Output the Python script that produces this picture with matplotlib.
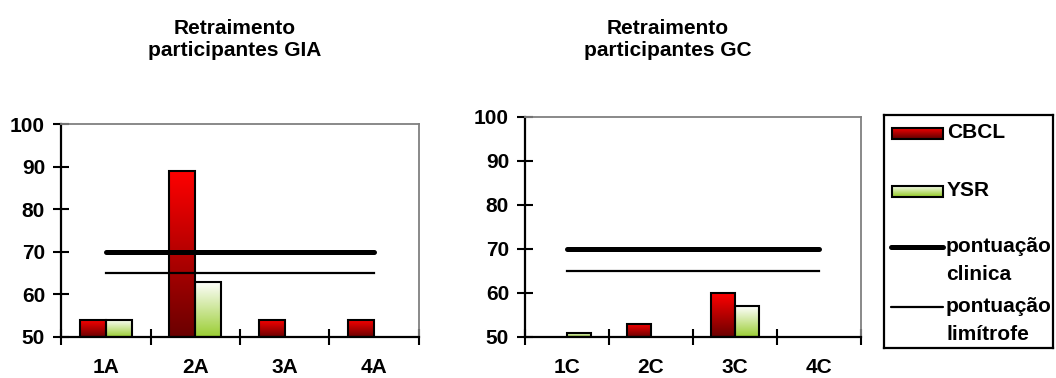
import numpy as np
import matplotlib
matplotlib.use('Agg')
import matplotlib.pyplot as plt
from matplotlib.colors import LinearSegmentedColormap
from matplotlib.patches import Rectangle

plt.rcParams['font.family'] = ['Liberation Sans', 'DejaVu Sans']
plt.rcParams['font.weight'] = 'bold'
plt.rcParams['font.size'] = 15

# Scores per participant
cats_gia = ['1A', '2A', '3A', '4A']
cbcl_gia = [54, 89, 54, 54]
ysr_gia = [54, 63, np.nan, np.nan]

cats_gc = ['1C', '2C', '3C', '4C']
cbcl_gc = [np.nan, 53, 60, np.nan]
ysr_gc = [51, np.nan, 57, np.nan]

clinical = 70
borderline = 65
yticks = [50, 60, 70, 80, 90, 100]

W, H = 1056, 378
fig = plt.figure(figsize=(W / 100, H / 100), dpi=100)


def px_axes(x0, y0, x1, y1):
    return fig.add_axes([x0 / W, 1 - y1 / H, (x1 - x0) / W, (y1 - y0) / H])


red_cmap = LinearSegmentedColormap.from_list('cbcl', ['#6a0000', '#ff0000'])
green_cmap = LinearSegmentedColormap.from_list('ysr', ['#9acd32', '#ffffff'])
grad = np.linspace(0, 1, 256).reshape(-1, 1)


def fill_gradient(ax, patch, cmap):
    x, y = patch.get_x(), patch.get_y()
    w, h = patch.get_width(), patch.get_height()
    if np.isnan(h):
        return
    img = ax.imshow(grad, cmap=cmap, origin='lower', aspect='auto',
                    extent=(x, x + w, y, y + h), zorder=2)
    img.set_clip_path(patch)


def panel(ax, cats, cbcl, ysr, title, title_x):
    x = np.arange(len(cats)) + 0.5
    bw = 0.29
    b1 = ax.bar(x - bw / 2, np.array(cbcl) - 50, bw, bottom=50,
                facecolor='none', edgecolor='black', linewidth=1.5, zorder=3)
    b2 = ax.bar(x + bw / 2, np.array(ysr) - 50, bw, bottom=50,
                facecolor='none', edgecolor='black', linewidth=1.5, zorder=3)
    for p in b1:
        fill_gradient(ax, p, red_cmap)
    for p in b2:
        fill_gradient(ax, p, green_cmap)

    # clinical and borderline cut-offs
    ax.plot([x[0], x[-1]], [clinical, clinical], color='black', lw=3.6,
            solid_capstyle='round', zorder=4)
    ax.plot([x[0], x[-1]], [borderline, borderline], color='black', lw=1.6,
            zorder=4)

    ax.set_xlim(0, len(cats))
    ax.set_ylim(50, 100)
    ax.set_xticks(np.arange(len(cats) + 1))
    ax.set_xticklabels([])
    ax.set_xticks(x, cats, minor=True)
    ax.set_yticks(yticks)
    ax.tick_params(axis='x', which='major', direction='inout', length=11, width=1.5)
    ax.tick_params(axis='x', which='minor', length=0, pad=15)
    ax.tick_params(axis='y', direction='inout', length=11, width=1.5, pad=6)

    for s in ['left', 'bottom']:
        ax.spines[s].set_color('black')
        ax.spines[s].set_linewidth(1.6)
    for s in ['top', 'right']:
        ax.spines[s].set_color('#808080')
        ax.spines[s].set_linewidth(1.3)

    fig.text(title_x / W, 1 - 19 / H, title, ha='center', va='top',
             linespacing=1.2)


ax1 = px_axes(61, 124, 419, 337)
panel(ax1, cats_gia, cbcl_gia, ysr_gia, 'Retraimento\nparticipantes GIA', 235)

ax2 = px_axes(525, 117, 861, 337)
panel(ax2, cats_gc, cbcl_gc, ysr_gc, 'Retraimento\nparticipantes GC', 668)

# Legend box
lg = px_axes(884, 115, 1053, 348)
lg.set_xticks([])
lg.set_yticks([])
for s in lg.spines.values():
    s.set_linewidth(1.6)
    s.set_color('black')

for yc, cmap, label in [(18, red_cmap, 'CBCL'), (76, green_cmap, 'YSR')]:
    r = Rectangle((8, yc - 5.5), 51, 11, facecolor='none', edgecolor='black',
                  linewidth=1.5, zorder=3)
    lg.add_patch(r)
    img = lg.imshow(grad, cmap=cmap, origin='lower', aspect='auto',
                    extent=(8, 59, yc + 5.5, yc - 5.5), zorder=2)
    img.set_clip_path(r)
    lg.text(63, yc, label, va='center', ha='left')

for yc, lw, lines in [(132, 3.6, ['pontuação', 'clinica']),
                      (192, 1.6, ['pontuação', 'limítrofe'])]:
    lg.plot([7, 59], [yc, yc], color='black', lw=lw, solid_capstyle='round')
    lg.text(62, yc, lines[0], va='center', ha='left')
    lg.text(62, yc + 28, lines[1], va='center', ha='left')

lg.set_xlim(0, 169)
lg.set_ylim(233, 0)

fig.savefig('out.png', dpi=100)
